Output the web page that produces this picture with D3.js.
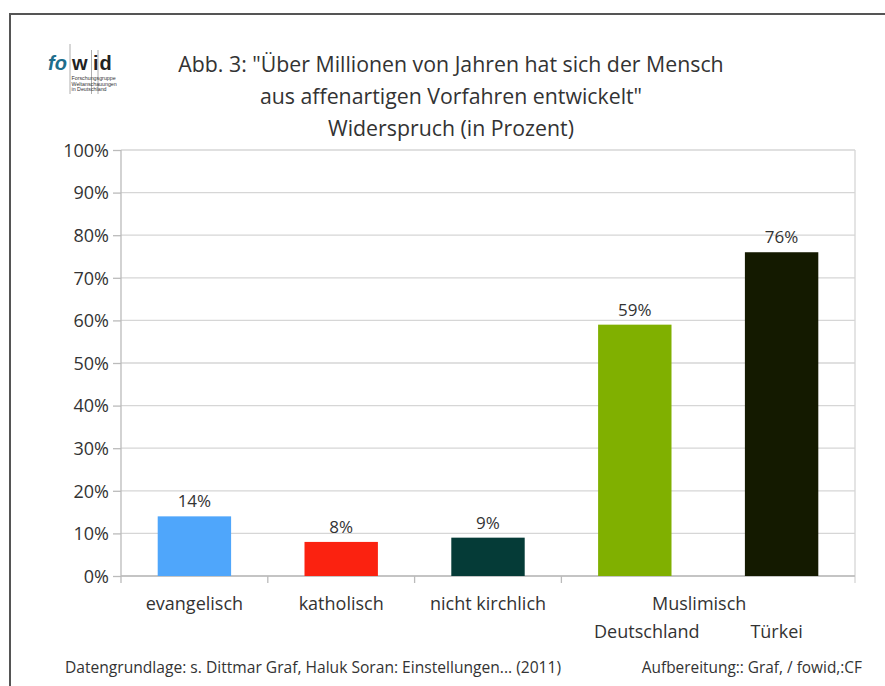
<!DOCTYPE html>
<html>
<head>
<meta charset="utf-8">
<script src="https://cdn.jsdelivr.net/npm/d3@7"></script>
<style>
  html, body { margin: 0; padding: 0; background: #fff; }
  svg { display: block; font-family: "Open Sans", "Noto Sans", sans-serif; }
</style>
</head>
<body>
<svg id="chart" width="885" height="686"></svg>
<script>
// Chart data
const categories = ["evangelisch", "katholisch", "nicht kirchlich", "Deutschland", "Türkei"];
const groups = ["", "", "", "Muslimisch", "Muslimisch"];
const values = [14, 8, 9, 59, 76];
const barColors = ["#4fa6fb", "#fb2210", "#053b37", "#80b000", "#141a00"];
const yTicks = [0, 10, 20, 30, 40, 50, 60, 70, 80, 90, 100];
const titleLines = [
  "Abb. 3: \"Über Millionen von Jahren hat sich der Mensch",
  "aus affenartigen Vorfahren entwickelt\"",
  "Widerspruch (in Prozent)"
];
const sourceLeft = "Datengrundlage: s. Dittmar Graf, Haluk Soran: Einstellungen... (2011)";
const sourceRight = "Aufbereitung:: Graf, / fowid,:CF";

const svg = d3.select("#chart");
const textColor = "#333";

// Plot area
const plot = { left: 121, right: 855, top: 150, bottom: 576 };

const x = d3.scaleBand()
  .domain(categories)
  .range([plot.left, plot.right])
  .paddingInner(0.5)
  .paddingOuter(0.25);

const y = d3.scaleLinear()
  .domain([0, 100])
  .range([plot.bottom, plot.top]);

// Outer frame (top and left edges)
svg.append("path")
  .attr("d", "M10,686 L10,14 L885,14")
  .attr("fill", "none")
  .attr("stroke", "#555")
  .attr("stroke-width", 2);

// Gridlines
svg.append("g")
  .selectAll("line")
  .data(yTicks)
  .join("line")
  .attr("x1", plot.left)
  .attr("x2", plot.right)
  .attr("y1", d => y(d))
  .attr("y2", d => y(d))
  .attr("stroke", "#d6d6d6")
  .attr("stroke-width", 1.3);

// Right border of the plot area
svg.append("line")
  .attr("x1", plot.right).attr("x2", plot.right)
  .attr("y1", plot.top).attr("y2", plot.bottom + 7)
  .attr("stroke", "#d6d6d6")
  .attr("stroke-width", 1.3);

// Y axis
const yAxis = d3.axisLeft(y)
  .tickValues(yTicks)
  .tickFormat(d => d + "%")
  .tickSize(8)
  .tickPadding(4);

const yg = svg.append("g")
  .attr("transform", `translate(${plot.left},0)`)
  .call(yAxis);
yg.select(".domain").remove();
yg.selectAll(".tick line").attr("stroke", "#bbb").attr("stroke-width", 1.3);
yg.selectAll(".tick text")
  .attr("fill", textColor)
  .style("font-size", "18px")
  .style("font-family", "'Open Sans', sans-serif")
  .attr("dy", "0.35em");
svg.append("line")
  .attr("x1", plot.left).attr("x2", plot.left)
  .attr("y1", plot.top).attr("y2", plot.bottom + 7)
  .attr("stroke", "#bbb")
  .attr("stroke-width", 1.3);

// X axis baseline
svg.append("line")
  .attr("x1", plot.left).attr("x2", plot.right)
  .attr("y1", plot.bottom).attr("y2", plot.bottom)
  .attr("stroke", "#bbb")
  .attr("stroke-width", 1.3);

// Category separators: skip boundaries inside a group
const step = x.step();
const boundaries = d3.range(1, categories.length)
  .filter(i => !(groups[i] && groups[i] === groups[i - 1]))
  .map(i => x(categories[i]) - (step - x.bandwidth()) / 2);
svg.append("g")
  .selectAll("line")
  .data(boundaries)
  .join("line")
  .attr("x1", d => d).attr("x2", d => d)
  .attr("y1", plot.bottom).attr("y2", plot.bottom + 7)
  .attr("stroke", "#bbb")
  .attr("stroke-width", 1.3);

// Bars
svg.append("g")
  .selectAll("rect")
  .data(categories)
  .join("rect")
  .attr("x", d => x(d))
  .attr("width", x.bandwidth())
  .attr("y", (d, i) => y(values[i]))
  .attr("height", (d, i) => y(0) - y(values[i]))
  .attr("fill", (d, i) => barColors[i]);

// Value labels
svg.append("g")
  .selectAll("text")
  .data(categories)
  .join("text")
  .attr("x", d => x(d) + x.bandwidth() / 2)
  .attr("y", (d, i) => y(values[i]) - 9)
  .attr("text-anchor", "middle")
  .attr("fill", textColor)
  .style("font-size", "17px")
  .text((d, i) => values[i] + "%");

// Category labels; members of a group sit on a second row,
// drawn slightly closer together than their bars
const grouped = categories.map((c, i) => groups[i] !== "");
const labelShift = [0, 0, 0, 12, -5];
svg.append("g")
  .selectAll("text")
  .data(categories)
  .join("text")
  .attr("x", (d, i) => x(d) + x.bandwidth() / 2 + labelShift[i])
  .attr("y", (d, i) => grouped[i] ? 638 : 610)
  .attr("text-anchor", "middle")
  .attr("fill", textColor)
  .style("font-size", "18px")
  .text(d => d);

// Group labels centred over their members
const groupNames = Array.from(new Set(groups.filter(g => g)));
svg.append("g")
  .selectAll("text")
  .data(groupNames)
  .join("text")
  .attr("x", g => {
    const members = categories.filter((c, i) => groups[i] === g);
    const first = x(members[0]);
    const last = x(members[members.length - 1]) + x.bandwidth();
    return (first + last) / 2 - 9;
  })
  .attr("y", 610)
  .attr("text-anchor", "middle")
  .attr("fill", textColor)
  .style("font-size", "18px")
  .text(g => g);

// Title
svg.append("g")
  .selectAll("text")
  .data(titleLines)
  .join("text")
  .attr("x", 451)
  .attr("y", (d, i) => 72 + i * 32)
  .attr("text-anchor", "middle")
  .attr("fill", textColor)
  .style("font-size", "21.3px")
  .text(d => d);

// Source lines
svg.append("text")
  .attr("x", 65).attr("y", 673)
  .attr("fill", textColor)
  .style("font-size", "15.6px")
  .text(sourceLeft);
svg.append("text")
  .attr("x", 862).attr("y", 673)
  .attr("text-anchor", "end")
  .attr("fill", textColor)
  .style("font-size", "15.4px")
  .text(sourceRight);

// fowid logo
const logo = svg.append("g");
const logoFont = "'Liberation Sans', Arial, sans-serif";
[
  { t: "fo", x: 48, c: "#1d6d8c", italic: true },
  { t: "w", x: 72, c: "#222" },
  { t: "i", x: 93, c: "#222" },
  { t: "d", x: 99.5, c: "#222" }
].forEach(p => {
  logo.append("text")
    .attr("x", p.x).attr("y", 70)
    .style("font-size", "20px")
    .style("font-weight", "bold")
    .style("font-style", p.italic ? "italic" : "normal")
    .style("font-family", logoFont)
    .attr("fill", p.c)
    .text(p.t);
});
[[70, 44], [91.5, 50], [98, 50]].forEach(([px, top]) => {
  logo.append("line")
    .attr("x1", px).attr("x2", px)
    .attr("y1", top).attr("y2", 94)
    .attr("stroke", "#999")
    .attr("stroke-width", 0.8);
});
["Forschungsgruppe", "Weltanschauungen", "in Deutschland"].forEach((t, i) => {
  logo.append("text")
    .attr("x", 71.5).attr("y", 80 + i * 5.5)
    .style("font-size", "5.3px")
    .style("font-family", logoFont)
    .attr("fill", "#333")
    .text(t);
});
</script>
</body>
</html>
